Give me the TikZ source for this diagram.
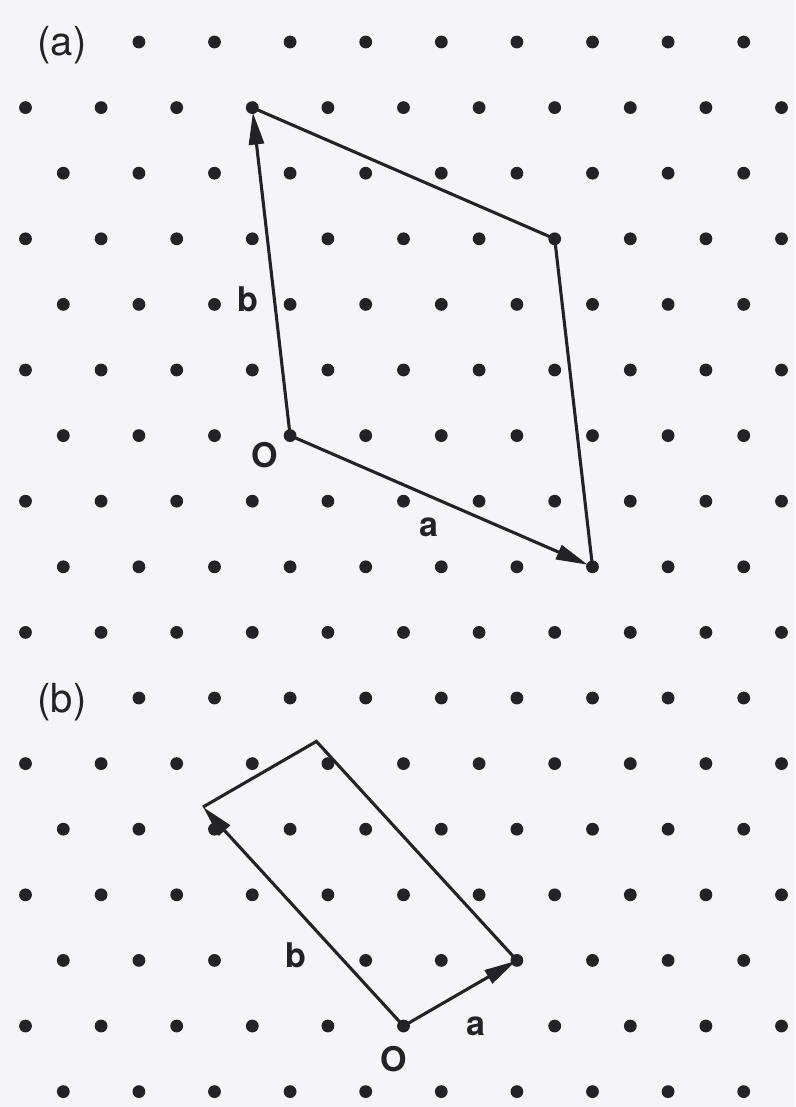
\documentclass[tikz,border=0pt]{standalone}
\usepackage{fontspec}
\setsansfont{TeX Gyre Heros}
\usetikzlibrary{arrows.meta,calc}
\definecolor{lcInk}  {HTML}{232325}
\definecolor{lcPaper}{HTML}{F5F5F7}

\begin{document}
\begin{tikzpicture}[x=1pt,y=-1pt,
      dot/.style={fill=lcInk},
      side/.style={draw=lcInk,line width=3.1pt,line join=miter},
      vec/.style={side,-{Triangle[length=32pt,width=15pt]}},
      panel/.style={font=\sffamily\fontsize{40}{44}\selectfont,text=lcInk,inner sep=0pt},
      lbl/.style={font=\sffamily\bfseries\fontsize{34}{38}\selectfont,text=lcInk,inner sep=0pt}]

  \fill[lcPaper] (0,0) rectangle (795,1107);
  \useasboundingbox (0,0) rectangle (795,1107);

  % lattice points (two gaps left for the labels of (b))
  \foreach \r in {1,3,...,15}{
    \foreach \k in {0,...,10}{
      \ifnum\r\k=156\relax\else
        \fill[dot] (25.5+75.6*\k,42+65.6*\r) circle (6.4pt);
      \fi}}
  \foreach \r in {0,2,...,16}{
    \foreach \k in {1,...,9}{
      \ifnum\r\k=143\relax\else
        \fill[dot] (63.3+75.6*\k,42+65.6*\r) circle (6.4pt);
      \fi}}
  \foreach \r in {2,4,6,8,12,14,16}
    \fill[dot] (63.3,42+65.6*\r) circle (6.4pt);

  \node[panel] (panA) at (62,45) {(a)};
  \node[panel] (panB) at (62,702) {(b)};

  % (a)
  \coordinate (aO) at (290.1,435.6);
  \coordinate (aA) at (592.5,566.8);
  \coordinate (aB) at (252.3,107.6);
  \coordinate (aC) at ($(aA)+(aB)-(aO)$);

  \draw[side] (aB) -- (aC) -- (aA);
  \draw[vec,shorten >=5pt] (aO) -- (aA);
  \draw[vec,shorten >=5pt] (aO) -- (aB);

  \node[lbl] (aLo) at (265,455) {O};
  \node[lbl] (aLa) at (429,527) {a};
  \node[lbl] (aLb) at (248,299) {b};

  % (b)
  \coordinate (bO) at (403.5,1026);
  \coordinate (bA) at (516.9,960.4);
  \coordinate (bB) at (203,807);
  \coordinate (bC) at ($(bA)+(bB)-(bO)$);

  \draw[side] (bB) -- (bC) -- (bA);
  \draw[vec,shorten >=1pt] (bO) -- (bA);
  \draw[vec] (bO) -- (bB);

  \node[lbl] (bLo) at (394,1059) {O};
  \node[lbl] (bLa) at (476,1026) {a};
  \node[lbl] (bLb) at (296,955) {b};
\end{tikzpicture}
\end{document}
